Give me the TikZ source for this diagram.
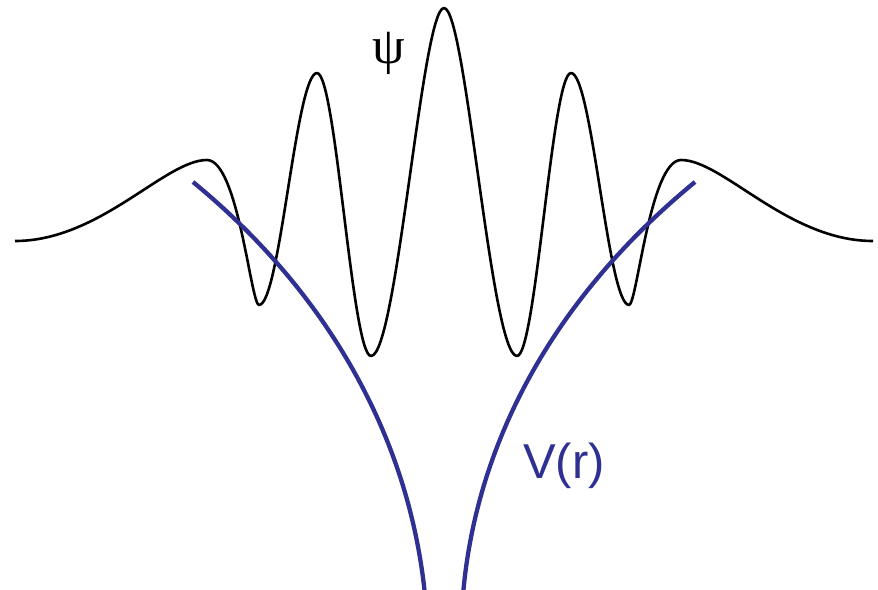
\documentclass[tikz,border=0pt]{standalone}
\usepackage{fontspec}
\setmainfont{Liberation Serif}
\setsansfont{Liberation Sans}
\usepackage{tikz}
\usetikzlibrary{positioning}
\definecolor{potblue}{RGB}{46,49,146}

\begin{document}
\begin{tikzpicture}[
    x=1pt, y=-1pt,
    wave/.style={draw=black, line width=2.6pt, line join=round},
    pot/.style={draw=potblue, line width=4.3pt},
    psilbl/.style={font=\fontsize{52}{54}\selectfont, inner sep=0pt, anchor=base},
    potlbl/.style={font=\sffamily\fontsize{49}{51}\selectfont, text=potblue, inner sep=0pt, anchor=base west}
]
    \useasboundingbox (0,0) rectangle (878,589);
    % wavefunction
    \draw[wave] (15,241) .. controls (100,241) and (165,160) .. (207,160)
        .. controls (238,160) and (251,305) .. (259,305)
        .. controls (280,305) and (296,73) .. (317,73)
        .. controls (336,73) and (352,356) .. (371,356)
        .. controls (397,356) and (422,8) .. (444,8)
        .. controls (466,8) and (491,356) .. (517,356)
        .. controls (536,356) and (552,73) .. (571,73)
        .. controls (592,73) and (608,305) .. (629,305)
        .. controls (637,305) and (650,160) .. (681,160)
        .. controls (723,160) and (788,241) .. (873,241);
    % potential
    \draw[pot] (193,182) .. controls (328,293) and (409,437) .. (425,595);
    \draw[pot] (695,182) .. controls (556,296) and (476,440) .. (463,595);
    % labels
    \node[psilbl] (psi) at (388.5,63) {ψ};
    \node[potlbl] (vr) at (523,478) {V(r)};
\end{tikzpicture}
\end{document}
